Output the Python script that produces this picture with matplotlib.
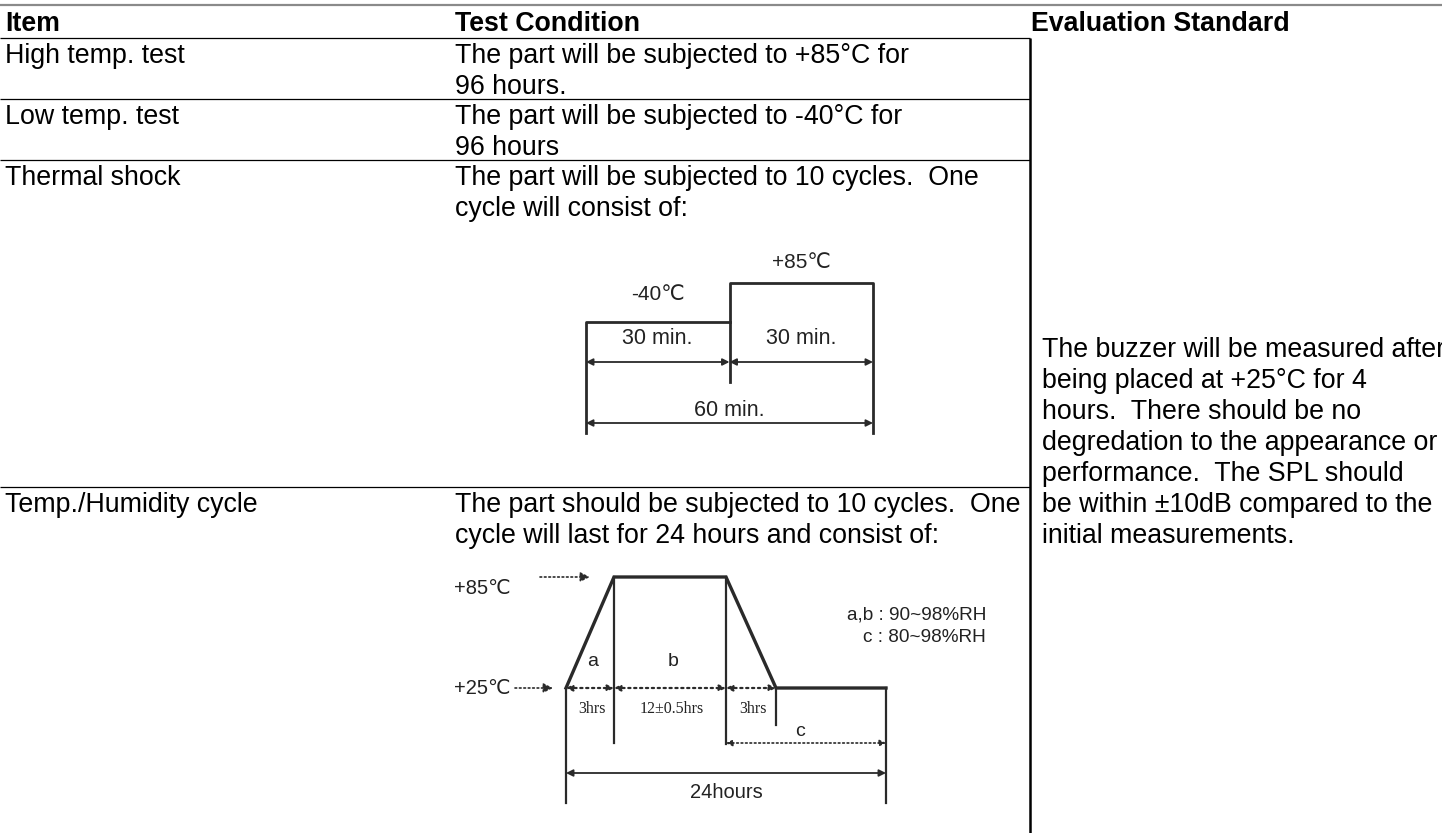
import matplotlib
matplotlib.use("Agg")
import matplotlib.pyplot as plt

# ---------------- data ----------------
headers = ["Item", "Test Condition", "Evaluation Standard"]
items = ["High temp. test", "Low temp. test", "Thermal shock", "Temp./Humidity cycle"]
conditions = [
    ["The part will be subjected to +85°C for", "96 hours."],
    ["The part will be subjected to -40°C for", "96 hours"],
    ["The part will be subjected to 10 cycles.  One", "cycle will consist of:"],
    ["The part should be subjected to 10 cycles.  One",
     "cycle will last for 24 hours and consist of:"],
]
evaluation_lines = [
    "The buzzer will be measured after",
    "being placed at +25°C for 4",
    "hours.  There should be no",
    "degredation to the appearance or",
    "performance.  The SPL should",
    "be within ±10dB compared to the",
    "initial measurements.",
]
# thermal shock cycle
shock_temps = [-40, 85]
shock_minutes = [30, 30]
shock_temp_labels = ["-40℃", "+85℃"]
shock_total_label = "60 min."
# temp / humidity cycle
humid_levels = [25, 85]
humid_level_labels = ["+25℃", "+85℃"]
humid_profile = [25, 85, 85, 25, 25]          # temperature at each phase boundary
humid_phase_names = ["a", "b", "", "c"]
humid_phase_times = ["3hrs", "12±0.5hrs", "3hrs", ""]
humid_total_label = "24hours"
rh_notes = ["a,b : 90~98%RH", "c : 80~98%RH"]

# ---------------- layout (pixels) ----------------
W, H = 1442, 833
fig = plt.figure(figsize=(W / 100, H / 100), dpi=100)
ax = fig.add_axes([0, 0, 1, 1])
ax.set_xlim(0, W)
ax.set_ylim(H, 0)
ax.axis("off")

SANS = ["Liberation Sans", "DejaVu Sans", "Noto Sans CJK SC"]
SERIF = ["Liberation Serif", "DejaVu Serif"]
FS = 19.3
col_x = [5, 455, 1031]
eval_x = 1042
vline_x = 1030
header_line = 38
row_lines = [header_line, 99, 160, 487]
line_gap = 31
txt_off = 25
ink = "#000000"
dia = "#2a2a2a"

# top rule
ax.plot([0, W], [5, 5], color="#8a8a8a", lw=1.6, solid_capstyle="butt")
# header underline and row separators
for yl in row_lines:
    ax.plot([0, vline_x], [yl, yl], color=ink, lw=0.9, solid_capstyle="butt")
# vertical separator
ax.plot([vline_x, vline_x], [header_line, H], color=ink, lw=1.8, solid_capstyle="butt")

# header text
for x, h in zip(col_x, headers):
    ax.text(x, 31, h, fontsize=FS, fontweight="bold", family=SANS, va="baseline", ha="left")

# rows
for r, (it, cond) in enumerate(zip(items, conditions)):
    base = row_lines[r] + txt_off
    ax.text(col_x[0], base, it, fontsize=FS, family=SANS, va="baseline", ha="left")
    for k, line in enumerate(cond):
        ax.text(col_x[1], base + k * line_gap, line, fontsize=FS, family=SANS,
                va="baseline", ha="left")

# evaluation text (merged cell, runs past the right edge as in the source)
last_base = row_lines[3] + txt_off + line_gap
n = len(evaluation_lines)
for k, line in enumerate(evaluation_lines):
    ax.text(eval_x, last_base - (n - 1 - k) * line_gap, line, fontsize=FS, family=SANS,
            va="baseline", ha="left", clip_on=True)


def arrow(x1, y1, x2, y2, style="<|-|>", ls="-", lw=1.3, ms=11):
    ax.annotate("", xy=(x2, y2), xytext=(x1, y1),
                arrowprops=dict(arrowstyle=style, color=dia, lw=lw, linestyle=ls,
                                shrinkA=0, shrinkB=0, mutation_scale=ms))


# ---------------- thermal shock diagram ----------------
sx0, sx1 = 586, 873
sy_lo, sy_hi = 322, 283          # pixel y of -40 and +85
def sx(t):
    return sx0 + (sx1 - sx0) * t / sum(shock_minutes)
def sy(T):
    return sy_lo + (sy_hi - sy_lo) * (T - shock_temps[0]) / (shock_temps[1] - shock_temps[0])

t_edges = [0, shock_minutes[0], sum(shock_minutes)]
lw_d = 2.0
ax.plot([sx(t_edges[0]), sx(t_edges[0]), sx(t_edges[1])],
        [433, sy(shock_temps[0]), sy(shock_temps[0])], color=dia, lw=lw_d)
ax.plot([sx(t_edges[1]), sx(t_edges[1]), sx(t_edges[2]), sx(t_edges[2])],
        [382, sy(shock_temps[1]), sy(shock_temps[1]), 433], color=dia, lw=lw_d)
ax.text((sx(t_edges[0]) + sx(t_edges[1])) / 2, sy(shock_temps[0]) - 27, shock_temp_labels[0],
        fontsize=15, family=SANS, ha="center", va="center", color="#222")
ax.text((sx(t_edges[1]) + sx(t_edges[2])) / 2, sy(shock_temps[1]) - 20, shock_temp_labels[1],
        fontsize=15, family=SANS, ha="center", va="center", color="#222")
for i in range(2):
    xm = (sx(t_edges[i]) + sx(t_edges[i + 1])) / 2
    ax.text(xm, 338, f"{shock_minutes[i]} min.", fontsize=15.5, family=SANS,
            ha="center", va="center", color="#222")
    arrow(sx(t_edges[i]), 362, sx(t_edges[i + 1]), 362, ms=10)
ax.text((sx0 + sx1) / 2, 410, shock_total_label, fontsize=15.5, family=SANS,
        ha="center", va="center", color="#222")
arrow(sx0, 423, sx1, 423, ms=10)

# ---------------- temp / humidity diagram ----------------
phase_px = [566, 614, 726, 776, 886]
hy_25, hy_85 = 688, 577
def hy(T):
    return hy_25 + (hy_85 - hy_25) * (T - humid_levels[0]) / (humid_levels[1] - humid_levels[0])

ax.plot(phase_px, [hy(T) for T in humid_profile], color=dia, lw=2.4, solid_joinstyle="miter")
ext_bottom = [803, 743, 744, 725, 803]
for x, T, yb in zip(phase_px, humid_profile, ext_bottom):
    ax.plot([x, x], [hy(T), yb], color=dia, lw=1.6)
ax.text(482, hy(humid_levels[1]) + 11, humid_level_labels[1], fontsize=14.5, family=SANS,
        ha="center", va="center", color="#222")
ax.text(482, hy(humid_levels[0]), humid_level_labels[0], fontsize=14.5, family=SANS,
        ha="center", va="center", color="#222")
arrow(540, hy(humid_levels[1]), 590, hy(humid_levels[1]), style="-|>", ls=":", lw=1.2, ms=14)
arrow(515, hy(humid_levels[0]), 553, hy(humid_levels[0]), style="-|>", ls=":", lw=1.2, ms=14)
for i in range(3):
    arrow(phase_px[i], hy(humid_levels[0]), phase_px[i + 1], hy(humid_levels[0]),
          ls=":", lw=1.6, ms=9)
for i, (nm, tm) in enumerate(zip(humid_phase_names, humid_phase_times)):
    xm = (phase_px[i] + phase_px[i + 1]) / 2
    if tm:
        ax.text(xm + 2, 709, tm, fontsize=11.5, family=SERIF, ha="center", va="center",
                color="#222")
    if nm and i < 2:
        ax.text(xm + 3, 662, nm, fontsize=14, family=SANS, ha="center", va="center",
                color="#222")
ax.text(800, 732, humid_phase_names[3], fontsize=14, family=SANS, ha="center",
        va="center", color="#222")
arrow(phase_px[2], 743, phase_px[4], 743, ls=":", lw=1.2, ms=9)
arrow(phase_px[0], 773, phase_px[4], 773, lw=1.3, ms=10)
ax.text((phase_px[0] + phase_px[4]) / 2, 792, humid_total_label, fontsize=14.5,
        family=SANS, ha="center", va="center", color="#222")
# RH notes
ax.text(986, 615, rh_notes[0], fontsize=13.7, family=SANS, ha="right", va="center",
        color="#222")
ax.text(986, 638, rh_notes[1], fontsize=13.7, family=SANS, ha="right", va="center",
        color="#222")

fig.savefig("out.png", dpi=100, facecolor="white")
